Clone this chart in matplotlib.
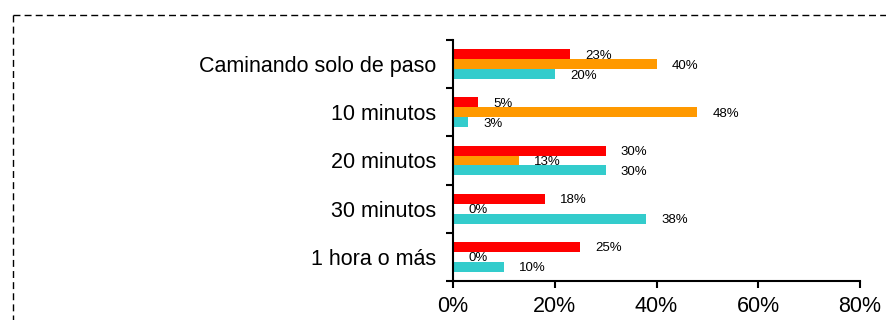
import numpy as np
import matplotlib.pyplot as plt
from matplotlib.lines import Line2D

plt.rcParams["font.family"] = ["Liberation Sans", "DejaVu Sans"]

# Data
categorias = ["Caminando solo de paso", "10 minutos", "20 minutos", "30 minutos", "1 hora o más"]
serie_roja = [23, 5, 30, 18, 25]
serie_naranja = [40, 48, 13, 0, 0]
serie_cian = [20, 3, 30, 38, 10]
colores = ["#FF0000", "#FF9900", "#33CCCC"]

fig = plt.figure(figsize=(8.86, 3.2), dpi=100)
ax = fig.add_axes([0.5113, 0.1219, 0.4594, 0.7531])

y = np.arange(len(categorias))
h = 0.207
for k, (vals, col) in enumerate(zip([serie_roja, serie_naranja, serie_cian], colores)):
    pos = y + (k - 1) * h
    ax.barh(pos, vals, height=h, color=col)
    for p, v in zip(pos, vals):
        ax.text(v + 3, p + 0.03, "{}%".format(v), fontsize=9.5, va="center", ha="left")

ax.set_ylim(len(categorias) - 0.5, -0.5)
ax.set_xlim(0, 80)
ax.set_xticks([0, 20, 40, 60, 80])
ax.set_xticklabels(["{}%".format(t) for t in [0, 20, 40, 60, 80]], fontsize=15.5)

# category labels between boundary ticks
ax.set_yticks(np.arange(-0.5, len(categorias), 1))
ax.set_yticklabels([])
ax.set_yticks(y, minor=True)
ax.set_yticklabels(categorias, minor=True, fontsize=15.5)
ax.tick_params(axis="y", which="minor", length=0, pad=12)
ax.tick_params(axis="y", which="major", length=5, width=1.5, direction="out")
ax.tick_params(axis="x", length=5, width=1.5, direction="out", pad=6)

for s in ["top", "right"]:
    ax.spines[s].set_visible(False)
for s in ["left", "bottom"]:
    ax.spines[s].set_linewidth(1.5)

# dashed border (cropped frame)
fig.add_artist(Line2D([13 / 886, 1.0], [1 - 15 / 320, 1 - 15 / 320], transform=fig.transFigure,
                      color="black", lw=1, dashes=(5, 3)))
fig.add_artist(Line2D([13 / 886, 13 / 886], [1 - 15 / 320, 0.0], transform=fig.transFigure,
                      color="black", lw=1, dashes=(5, 3)))

fig.savefig("out.png", dpi=100)
plt.close(fig)
